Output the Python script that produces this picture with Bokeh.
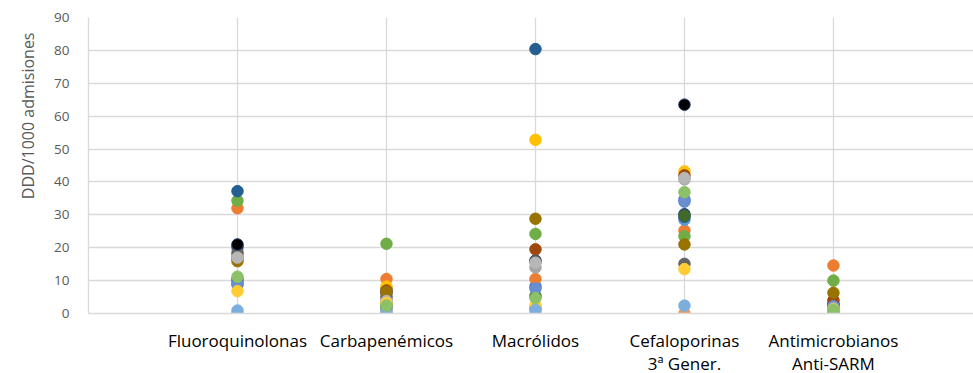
from bokeh.plotting import figure
from bokeh.models import Range1d, FixedTicker, Title
from bokeh.embed import file_html
from bokeh.resources import INLINE

nan = float("nan")

categories = ["Fluoroquinolonas", "Carbapenémicos", "Macrólidos",
              "Cefaloporinas\n3ª Gener.", "Antimicrobianos\nAnti-SARM"]
y_ticks = [0, 10, 20, 30, 40, 50, 60, 70, 80, 90]
y_title = "DDD/1000 admisiones"

# one series per hospital: values for each category (DDD/1000 admisiones)
h01 = [8.8, 7.6, 8.2, 34.6, 2.4]
h02 = [32.0, 10.5, 10.5, 25.2, 14.6]
h03 = [17.6, 4.5, 14.0, 40.8, 2.0]
h04 = [19.6, 8.2, 52.8, 43.2, 3.0]
h05 = [9.4, 1.0, 1.6, 28.5, 0.8]
h06 = [34.3, 21.2, 24.2, 23.5, 10.0]
h07 = [20.4, 6.2, 16.1, 30.2, 2.8]
h08 = [16.8, 7.0, 19.5, 42.0, 4.0]
h09 = [18.4, 5.0, 15.8, 15.1, 1.6]
h10 = [15.9, 6.6, 28.8, 21.0, 6.3]
h11 = [37.2, 3.0, 80.4, 29.4, 1.4]
h12 = [10.4, 2.0, 5.3, 29.7, 1.0]
h13 = [9.0, 3.4, 7.6, 34.0, 2.2]
h14 = [0.0, 0.2, 0.0, 0.0, 0.6]
h15 = [17.0, 3.8, 15.4, 41.2, 1.5]
h16 = [6.8, 3.2, 2.4, 13.5, 1.2]
h17 = [0.9, 0.0, 1.1, 2.4, 0.3]
h18 = [11.2, 2.4, 4.7, 36.9, 1.1]
h19 = [21.0, nan, nan, 63.5, nan]

series = [h01, h02, h03, h04, h05, h06, h07, h08, h09, h10,
          h11, h12, h13, h14, h15, h16, h17, h18, h19]
fills = ["#4472C4", "#ED7D31", "#A5A5A5", "#FFC000", "#5B9BD5", "#70AD47",
         "#264478", "#9E480E", "#636363", "#997300", "#255E91", "#43682B",
         "#698ED0", "#F1975A", "#B7B7B7", "#FFCD33", "#7CAFDD", "#8CC168",
         "#000000"]
edges = fills[:-1] + ["#203864"]

FONT = "Open Sans"

p = figure(width=973, height=373, frame_width=885, frame_height=296,
           output_backend="svg", toolbar_location=None,
           x_range=Range1d(0, 5.94), y_range=Range1d(0, 90),
           min_border_left=88, min_border_right=0, min_border_top=17,
           min_border_bottom=0)
p.outline_line_color = None
p.background_fill_color = "white"
p.border_fill_color = "white"

xs = list(range(1, len(categories) + 1))
for vals, fc, lc in zip(series, fills, edges):
    p.scatter(xs, vals, size=11.5, fill_color=fc, line_color=lc, line_width=1)

# axes
p.yaxis.ticker = FixedTicker(ticks=y_ticks)
p.yaxis.major_tick_line_color = None
p.yaxis.minor_tick_line_color = None
p.yaxis.axis_line_color = "#D9D9D9"
p.yaxis.axis_line_width = 1.3
p.yaxis.major_label_text_font = FONT
p.yaxis.major_label_text_font_size = "13.5px"
p.yaxis.major_label_text_color = "#595959"
p.yaxis.major_label_standoff = 13

p.xaxis.ticker = FixedTicker(ticks=xs)
p.xaxis.major_label_overrides = {x: c for x, c in zip(xs, categories)}
p.xaxis.major_tick_line_color = None
p.xaxis.minor_tick_line_color = None
p.xaxis.axis_line_color = "#D9D9D9"
p.xaxis.axis_line_width = 1.3
p.xaxis.major_label_text_font = FONT
p.xaxis.major_label_text_font_size = "17px"
p.xaxis.major_label_text_line_height = 1.0
p.xaxis.major_label_text_color = "#000000"
p.xaxis.major_label_standoff = 9

p.ygrid.ticker = FixedTicker(ticks=y_ticks)
p.ygrid.grid_line_color = "#D9D9D9"
p.ygrid.grid_line_width = 1.3
p.xgrid.ticker = FixedTicker(ticks=xs)
p.xgrid.grid_line_color = "#D9D9D9"
p.xgrid.grid_line_width = 1.3

p.add_layout(Title(text=y_title, align="right", offset=15,
                   vertical_align="top",
                   text_font=FONT, text_font_size="16px",
                   text_font_style="normal", text_color="#595959",
                   standoff=22), "left")

open("out.html", "w").write(file_html(p, INLINE))
